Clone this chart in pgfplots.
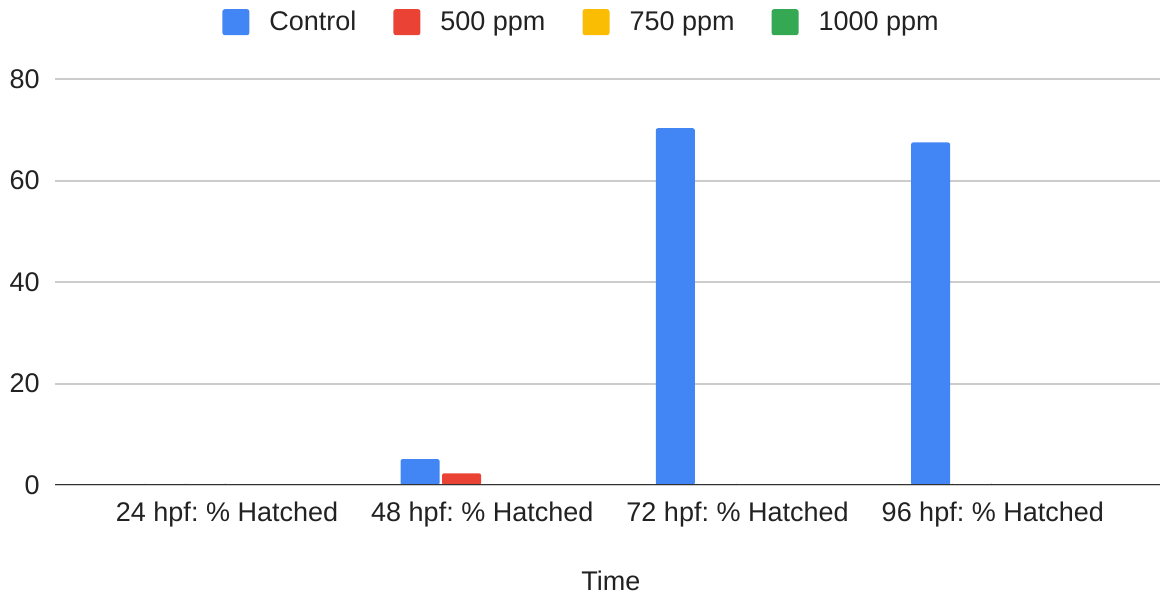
\documentclass[border=0pt]{standalone}
\usepackage{pgfplots}
\pgfplotsset{compat=1.18}
\usepackage{fontspec}
\setmainfont{Liberation Sans}
\frenchspacing
\definecolor{gblue}{HTML}{4285F4}
\definecolor{gred}{HTML}{EA4335}
\definecolor{gyellow}{HTML}{FBBC04}
\definecolor{ggreen}{HTML}{34A853}
\definecolor{txt}{HTML}{222222}
\begin{document}
\begin{tikzpicture}[font=\fontsize{13.5pt}{16pt}\selectfont, text=txt]
\begin{axis}[
  at={(0,0)}, anchor=south west,
  scale only axis,
  width=552.5pt, height=203pt,
  xmin=-0.674, xmax=3.655,
  ymin=0, ymax=80,
  ytick={0,20,40,60,80},
  xtick={0,1,2,3},
  xticklabels={24 hpf: \% Hatched, 48 hpf: \% Hatched, 72 hpf: \% Hatched, 96 hpf: \% Hatched},
  axis line style={draw=none},
  major tick length=0pt,
  ymajorgrids,
  grid style={line width=1pt, color=black!20},
  /pgf/number format/assume math mode=true,
  yticklabel style={anchor=east, inner sep=0pt, xshift=-7.5pt},
  xticklabel style={anchor=base, inner sep=0pt, yshift=-18.5pt},
  xlabel={Time},
  xlabel style={at={(axis description cs:0.503,0)}, anchor=base, inner sep=0pt, yshift=-52.5pt},
  ybar, bar width=19.5pt,
  legend columns=4,
  legend image code/.code={\fill[#1, rounded corners=1.2pt] (-1pt,-6.5pt) rectangle (12.5pt,6.5pt);},
  legend style={draw=none, fill=none, inner sep=0pt,
    at={(axis description cs:0.4756,1.14)}, anchor=center,
    nodes={inner sep=0pt},
    /tikz/every odd column/.append style={column sep=10pt},
    /tikz/every even column/.append style={column sep=18.5pt}},
]
\addplot[draw=none, fill=gblue, bar shift=-31.125pt, rounded corners=1pt] coordinates {(0,0) (1,5.1) (2,70.3) (3,67.5)};
\addplot[draw=none, fill=gred, bar shift=-10.375pt, rounded corners=1pt] coordinates {(0,0) (1,2.3) (2,0) (3,0)};
\addplot[draw=none, fill=gyellow, bar shift=10.375pt] coordinates {(0,0) (1,0) (2,0) (3,0)};
\addplot[draw=none, fill=ggreen, bar shift=31.125pt] coordinates {(0,0) (1,0) (2,0) (3,0)};
\legend{Control, 500 ppm, 750 ppm, 1000 ppm}
\draw[line width=1pt, color=black!80] (rel axis cs:0,0) -- (rel axis cs:1,0);
\end{axis}
\pgfresetboundingbox
\useasboundingbox (-27.5pt,-54pt) rectangle (553pt,242.5pt);
\end{tikzpicture}
\end{document}
